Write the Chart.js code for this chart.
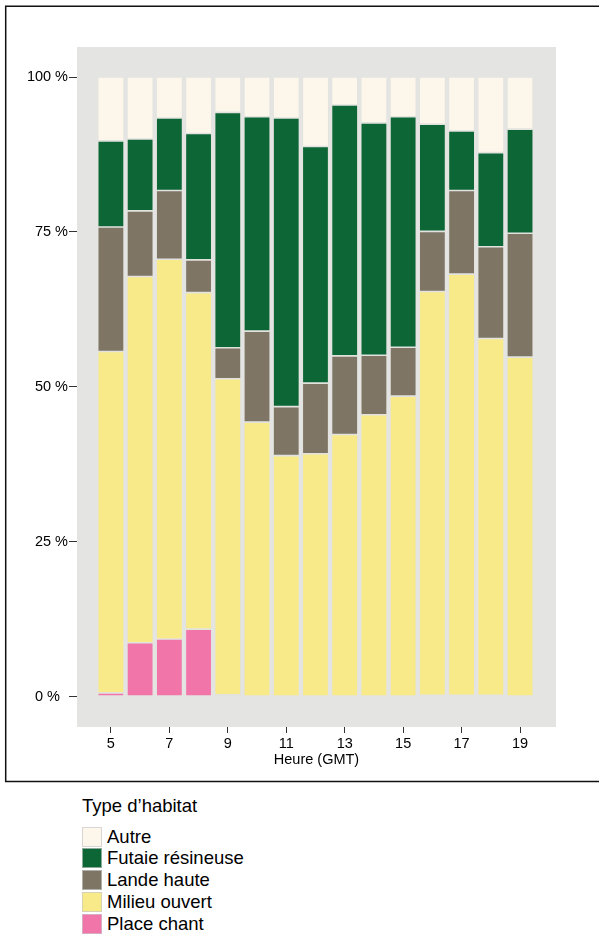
<!DOCTYPE html>
<html>
<head>
<meta charset="utf-8">
<script src="https://cdn.jsdelivr.net/npm/chart.js@4.4.1/dist/chart.umd.min.js"></script>
<style>
  body { margin: 0; background: #fff; font-family: "Liberation Sans", Arial, sans-serif; }
  #wrap { position: relative; width: 599px; height: 935px; overflow: hidden; }
  #myChart { position: absolute; left: 0; top: 0; }
  #legend { position: absolute; left: 82px; top: 795.6px; color: #000; }
  #legend .titre { font-size: 18.5px; line-height: 20px; height: 31.1px; }
  #legend .item { display: flex; align-items: flex-start; height: 21.8px; }
  #legend .carre { width: 20px; height: 20px; box-sizing: border-box; border: 1px solid rgba(200,200,200,0.7); }
  #legend .nom { font-size: 18.5px; line-height: 20px; margin-left: 5px; }
</style>
</head>
<body>
<div id="wrap">
  <canvas id="myChart" width="599" height="785"></canvas>
  <div id="legend"></div>
</div>
<script>
// heures d'observation
const heures = [5, 6, 7, 8, 9, 10, 11, 12, 13, 14, 15, 16, 17, 18, 19];

// part de chaque habitat (%) par heure
const placeChant      = [0.6, 8.7, 9.3, 10.9, 0.3, 0, 0, 0, 0, 0, 0, 0.2, 0.2, 0.2, 0];
const milieuOuvert    = [55.1, 59.1, 61.3, 54.3, 51.0, 44.3, 38.9, 39.2, 42.3, 45.5, 48.5, 65.2, 68.0, 57.6, 54.8];
const landeHaute      = [20.1, 10.6, 11.1, 5.3, 5.0, 14.7, 7.9, 11.4, 12.7, 9.6, 7.9, 9.7, 13.5, 14.8, 20.0];
const futaieResineuse = [13.9, 11.6, 11.7, 20.4, 38.0, 34.6, 46.6, 38.2, 40.5, 37.5, 37.2, 17.3, 9.6, 15.2, 16.8];
const autre           = [10.3, 10.0, 6.6, 9.1, 5.7, 6.4, 6.6, 11.2, 4.5, 7.4, 6.4, 7.6, 8.7, 12.2, 8.4];

// ticks affichés
const heuresTicks = [5, 7, 9, 11, 13, 15, 17, 19];
const pctTicks = [0, 25, 50, 75, 100];

const ctx = document.getElementById('myChart');

function serie(label, valeurs, couleur) {
  return {
    label: label,
    data: heures.map((h, i) => ({ x: h, y: valeurs[i] })),
    backgroundColor: couleur,
    borderColor: 'rgba(225,225,218,0.55)',
    borderWidth: 0.8,
    borderSkipped: false,
    categoryPercentage: 1,
    barPercentage: 0.903
  };
}

// ordre d'empilement : du bas vers le haut
const datasets = [
  serie('Place chant', placeChant, '#f275aa'),
  serie('Milieu ouvert', milieuOuvert, '#f8ea89'),
  serie('Lande haute', landeHaute, '#7e7565'),
  serie('Futaie résineuse', futaieResineuse, '#0c6635'),
  serie('Autre', autre, '#fdf6eb')
];

// fond gris du panneau + cadre
const cadre = {
  id: 'cadre',
  beforeDraw(chart) {
    const a = chart.chartArea;
    const c = chart.ctx;
    c.save();
    c.fillStyle = '#e4e4e2';
    c.fillRect(a.left, a.top, a.right - a.left, a.bottom - a.top);
    c.restore();
  },
  afterDraw(chart) {
    const c = chart.ctx;
    c.save();
    c.strokeStyle = '#111';
    c.lineWidth = 1.5;
    c.beginPath();
    c.moveTo(605, 6.2);
    c.lineTo(5.7, 6.2);
    c.lineTo(5.7, 781.5);
    c.lineTo(605, 781.5);
    c.stroke();
    c.restore();
  }
};

const police = { family: '"Liberation Sans", Arial, sans-serif', size: 14.5 };

const chart = new Chart(ctx, {
  type: 'bar',
  data: { datasets: datasets },
  options: {
    responsive: false,
    animation: false,
    devicePixelRatio: 1,
    layout: { padding: { top: 47, right: 43, bottom: 4, left: 0 } },
    plugins: {
      legend: { display: false },
      tooltip: { enabled: false }
    },
    scales: {
      x: {
        type: 'linear',
        stacked: true,
        offset: false,
        min: 3.84,
        max: 20.23,
        afterBuildTicks(scale) {
          scale.ticks = heuresTicks.map(v => ({ value: v }));
        },
        afterFit(scale) { scale.height = 54; },
        grid: { offset: false, drawOnChartArea: false, drawTicks: true, tickLength: 6, color: '#333' },
        border: { display: false },
        ticks: { color: '#000', font: police, padding: 2, maxRotation: 0, autoSkip: false,
          callback: v => String(v) },
        title: { display: true, text: 'Heure (GMT)', color: '#000', font: police,
          padding: { top: 0, bottom: 12 } }
      },
      y: {
        stacked: true,
        min: -4.9,
        max: 104.85,
        afterBuildTicks(scale) {
          scale.ticks = pctTicks.map(v => ({ value: v }));
        },
        afterFit(scale) { scale.width = 77; },
        grid: { drawOnChartArea: false, drawTicks: true, tickLength: 8, color: '#333' },
        border: { display: false },
        ticks: { color: '#000', font: police, padding: 1,
          callback: v => (v === 0 ? '0 %  ' : v + ' %') }
      }
    }
  },
  plugins: [cadre]
});

// légende HTML, dans l'ordre inverse de l'empilement
const legende = document.getElementById('legend');
let html = '<div class="titre">Type d\u2019habitat</div>';
datasets.slice().reverse().forEach(ds => {
  html += '<div class="item"><div class="carre" style="background:' + ds.backgroundColor +
    '"></div><div class="nom">' + ds.label + '</div></div>';
});
legende.innerHTML = html;
</script>
</body>
</html>
